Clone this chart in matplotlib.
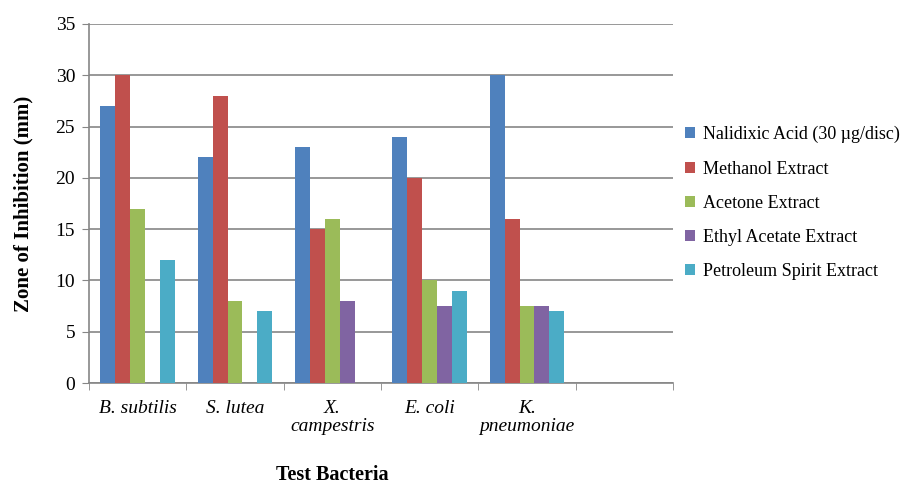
import numpy as np
import matplotlib
matplotlib.use("Agg")
import matplotlib.pyplot as plt

plt.rcParams['font.family'] = ['Liberation Serif', 'DejaVu Serif']

# data
bacteria = ['B. subtilis', 'S. lutea', 'X.\ncampestris', 'E. coli', 'K.\npneumoniae', '']
series = ['Nalidixic Acid (30 \u00b5g/disc)', 'Methanol Extract', 'Acetone Extract',
          'Ethyl Acetate Extract', 'Petroleum Spirit Extract']
nalidixic = [27, 22, 23, 24, 30, 0]
methanol = [30, 28, 15, 20, 16, 0]
acetone = [17, 8, 16, 10, 7.5, 0]
ethyl = [0, 0, 8, 7.5, 7.5, 0]
petroleum = [12, 7, 0, 9, 7, 0]
colors = ['#4F81BD', '#C0504D', '#9BBB59', '#8064A2', '#4BACC6']

fig = plt.figure(figsize=(9.17, 4.86), dpi=100)
ax = fig.add_axes([89/917, 1-383/486, (673-89)/917, (383-24)/486])

x = np.arange(len(bacteria))
w = 0.153
for i, (vals, lab) in enumerate(zip([nalidixic, methanol, acetone, ethyl, petroleum], series)):
    ax.bar(x + (i - 2) * w, vals, width=w, color=colors[i], label=lab, zorder=3)

ax.set_xlim(-0.5, len(bacteria) - 0.5)
ax.set_ylim(0, 35)
ax.set_yticks(range(0, 36, 5))
ax.tick_params(axis='y', labelsize=14, length=5, color='#868686', pad=5)
ax.set_xticks(x)
ax.set_xticklabels(bacteria, fontsize=14, style='italic', linespacing=1.1)
ax.tick_params(axis='x', length=0, pad=12)
ax.set_xticks(np.arange(-0.5, len(bacteria)), minor=True)
ax.tick_params(axis='x', which='minor', length=5, color='#868686')

ax.grid(axis='y', color='#868686', linewidth=1.2, zorder=0)
for s in ['top', 'right']:
    ax.spines[s].set_visible(False)
for s in ['left', 'bottom']:
    ax.spines[s].set_color('#868686')
    ax.spines[s].set_linewidth(1.2)

ax.set_ylabel('Zone of Inhibition (mm)', fontsize=15, fontweight='bold', labelpad=16)
fig.text(332/917, 1-475/486, 'Test Bacteria', fontsize=14.5, fontweight='bold',
         ha='center', va='center')

ax.legend(loc='center left', bbox_to_anchor=(685/917, 1-203/486),
          bbox_transform=fig.transFigure, frameon=False, fontsize=13,
          borderaxespad=0, borderpad=0,
          handlelength=0.55, handleheight=0.55, handletextpad=0.45, labelspacing=0.95)

fig.savefig('out.png', dpi=100)
